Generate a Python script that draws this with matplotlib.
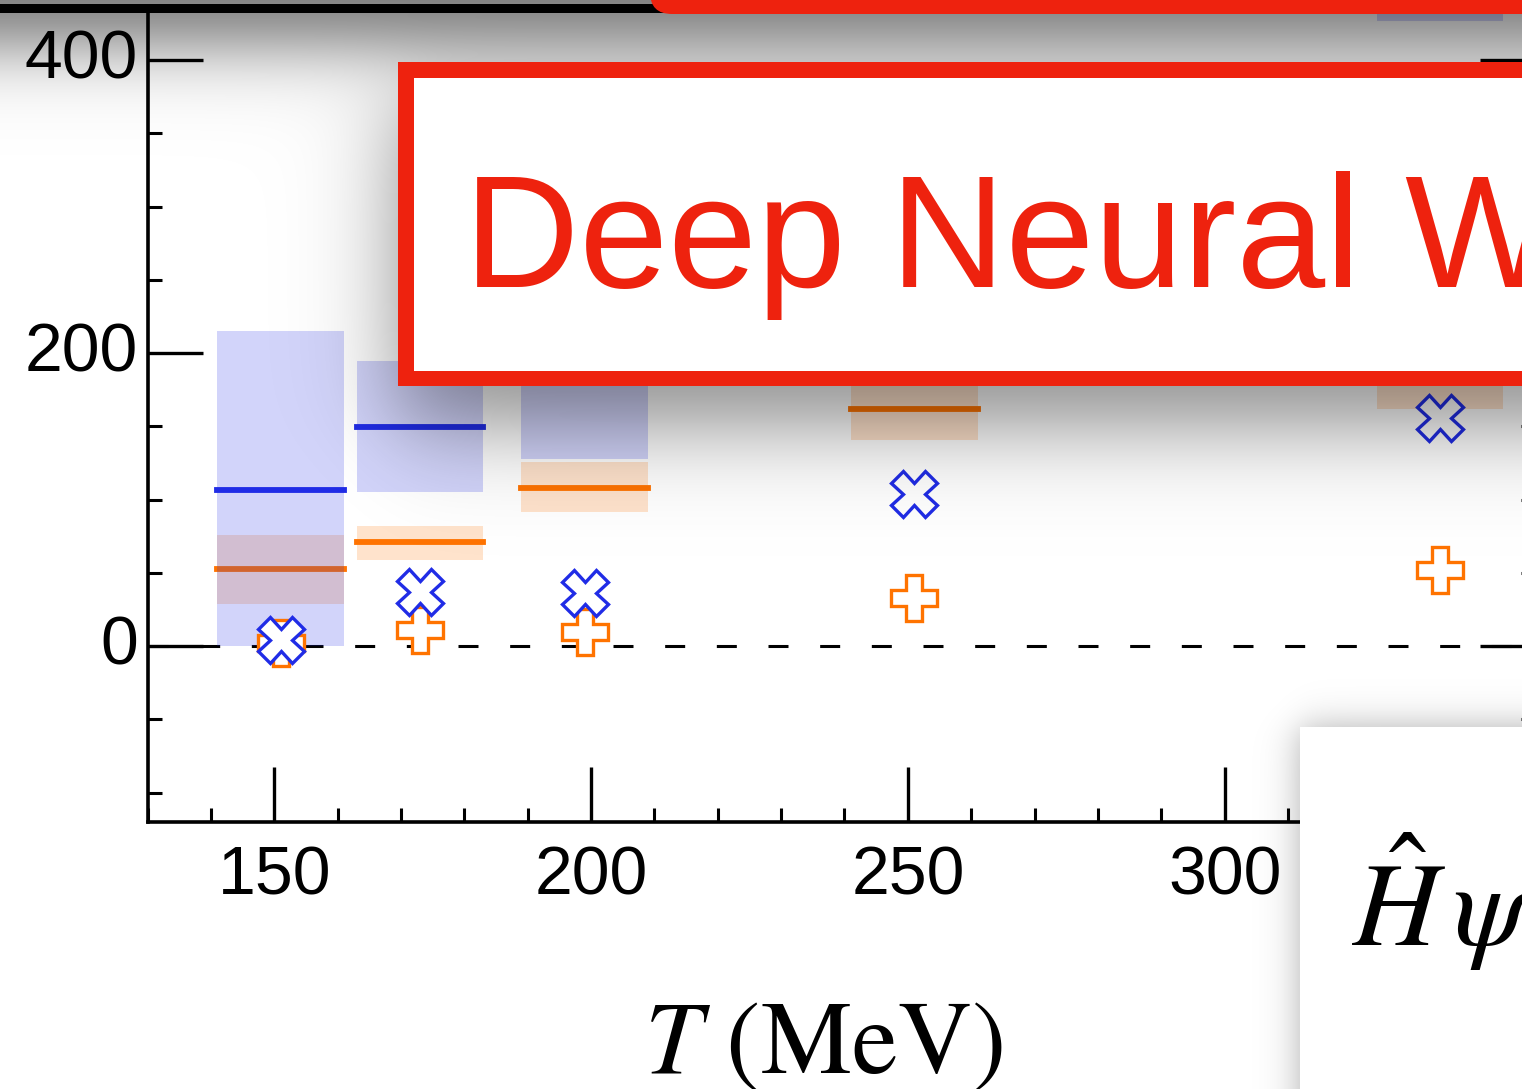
import numpy as np
import matplotlib
matplotlib.use("Agg")
import matplotlib.pyplot as plt
from matplotlib.patches import Rectangle, FancyBboxPatch
from matplotlib.ticker import MultipleLocator

plt.rcParams['mathtext.fontset'] = 'stix'
plt.rcParams['lines.scale_dashes'] = False
plt.rcParams['font.family'] = ['Liberation Sans', 'DejaVu Sans']

# ---------------- data ----------------
temps = [151, 173, 199, 251, 334]
# series 1 (blue): central value and band
blue_mid = [106.5, 149.5, 190, 240, 470]
blue_lo = [0, 105, 128, 185, 427]
blue_hi = [215, 195, 215, 300, 520]
# series 2 (orange): central value and band
orange_mid = [53, 71, 108, 162, 190]
orange_lo = [29, 59, 91.5, 140.6, 162]
orange_hi = [76, 82, 125.6, 185, 215]
# point markers
blue_pts = [4, 37, 36, 104, 156]
orange_pts = [2, 11, 9.5, 33, 52]

xticks_major = [150, 200, 250, 300]
yticks_major = [0, 200, 400]

BLUE = '#202CE6'
ORANGE = '#FF7300'
RED = '#EE220E'

W, H = 1522, 1089
fig = plt.figure(figsize=(W / 100, H / 100), dpi=100)
fig.patch.set_facecolor('white')

xmin, xmax = 130, 349
ymin, ymax = -120, 435
sx, sy = 6.336, 1.465
left_px, bottom_px = 147.5, 822
ax = fig.add_axes([left_px / W, (H - bottom_px) / H,
                   (xmax - xmin) * sx / W, (ymax - ymin) * sy / H])
ax.set_xlim(xmin, xmax)
ax.set_ylim(ymin, ymax)

t = np.array(temps, dtype=float)
half = 10
ax.bar(t, np.array(orange_hi) - np.array(orange_lo), bottom=orange_lo, width=2 * half,
       color=ORANGE, alpha=0.2, lw=0, zorder=1)
ax.hlines(orange_mid, t - half, t + half, colors=ORANGE, lw=4.2, capstyle='projecting', zorder=2)
ax.bar(t, np.array(blue_hi) - np.array(blue_lo), bottom=blue_lo, width=2 * half,
       color=BLUE, alpha=0.2, lw=0, zorder=3)
ax.hlines(blue_mid, t - half, t + half, colors=BLUE, lw=4.2, capstyle='projecting', zorder=4)

ax.axhline(0, color='black', lw=2.2, dashes=(14.4, 22.8), zorder=2.5)

ax.plot(t, orange_pts, ls='none', marker='P', ms=33, mfc='white', mec=ORANGE, mew=2.4, zorder=5)
ax.plot(t, blue_pts, ls='none', marker='X', ms=33, mfc='white', mec=BLUE, mew=2.4, zorder=6)

for s in ['left', 'bottom', 'right']:
    ax.spines[s].set_linewidth(2.6)
ax.spines['top'].set_visible(False)
ax.xaxis.set_major_locator(MultipleLocator(50))
ax.xaxis.set_minor_locator(MultipleLocator(10))
ax.yaxis.set_major_locator(MultipleLocator(200))
ax.yaxis.set_minor_locator(MultipleLocator(50))
ax.tick_params(which='both', direction='in', right=True, top=False)
ax.tick_params(which='major', length=39.6, width=2.4, labelsize=49)
ax.tick_params(which='minor', length=10, width=2.2)
ax.tick_params(axis='x', which='major', pad=16)
ax.tick_params(axis='y', which='major', pad=7)
ax.set_xticks(xticks_major)
ax.set_yticks(yticks_major)
ax.set_xticklabels([str(v) for v in xticks_major])
ax.set_yticklabels([str(v) for v in yticks_major])
for lbl in ax.get_yticklabels():
    lbl.set_va('center')

ax.set_xlabel(r'$T\ (\mathrm{MeV})$', fontsize=74, va='baseline')
ax.xaxis.set_label_coords((823.5 - left_px) / ((xmax - xmin) * sx),
                          -(1073 - bottom_px) / ((ymax - ymin) * sy))

# ---------------- overlay (slide elements) ----------------
ov = fig.add_axes([0, 0, 1, 1], zorder=5)
ov.set_xlim(0, W)
ov.set_ylim(H, 0)
ov.axis('off')

xs = np.arange(W) + 0.5
ys = np.arange(H) + 0.5


def soft(a, lo, hi, s):
    return 0.5 * (np.tanh((a - lo) / s) - np.tanh((a - hi) / s))


def shadow(x0, x1, y0, y1, s, amp):
    return amp * np.outer(soft(ys, y0, y1, s), soft(xs, x0, x1, s))


d1 = shadow(-3000, 5000, -500, 44, 45, 0.55)
d2 = shadow(398, 5000, 62 + 40, 386 + 40, 55, 0.45)
d3 = shadow(1300, 5000, 727, 5000, 22, 0.32)
dark = 1 - (1 - d1) * (1 - d2) * (1 - d3)
rgba = np.zeros((H, W, 4))
rgba[..., 3] = dark
ov.imshow(rgba, extent=(0, W, H, 0), interpolation='bilinear', aspect='auto', zorder=1)

ov.add_patch(Rectangle((0, 4), 720, 8.5, color='black', lw=0, zorder=2))
ov.add_patch(FancyBboxPatch((650, -80), 1000, 94, boxstyle='round,pad=0,rounding_size=22',
                            fc=RED, ec='none', zorder=3))
ov.add_patch(Rectangle((398, 62), 1300, 324, fc=RED, ec='none', zorder=3))
ov.add_patch(Rectangle((414, 78), 1300, 293, fc='white', ec='none', zorder=3.1))
ov.text(464, 287, 'Deep Neural Wavefunction', color=RED, fontsize=115,
        family='Liberation Sans', ha='left', va='baseline', zorder=4, clip_on=True)

ov.add_patch(Rectangle((1300, 727), 400, 500, fc='white', ec='none', zorder=3))
ov.text(1352, 946, r'$\hat{H}\,\psi$', fontsize=86, ha='left', va='baseline',
        zorder=4, clip_on=True)

fig.savefig('out.png', dpi=100)
